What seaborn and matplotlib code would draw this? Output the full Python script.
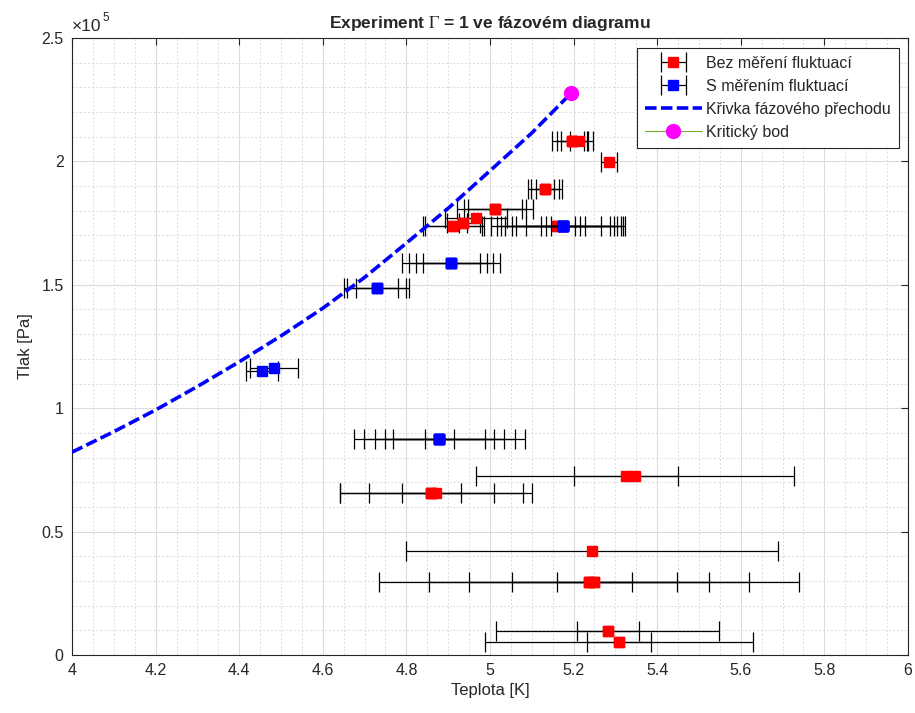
import numpy as np
import pandas as pd
import matplotlib
matplotlib.use("Agg")
import matplotlib.pyplot as plt
from matplotlib.ticker import MultipleLocator, FuncFormatter
from matplotlib.lines import Line2D
from matplotlib.container import ErrorbarContainer
from matplotlib.legend_handler import HandlerErrorbar
import seaborn as sns

# ---------------- data ----------------
# Phase transition curve (He-4 vapour pressure)
curve_T = [4.0, 4.1, 4.2, 4.3, 4.4, 4.5, 4.6, 4.7, 4.8, 4.9, 5.0, 5.1, 5.195]
curve_P = [0.822e5, 0.905e5, 0.993e5, 1.088e5, 1.188e5, 1.293e5, 1.405e5,
           1.530e5, 1.669e5, 1.810e5, 1.962e5, 2.115e5, 2.278e5]

# critical point
crit_T = [5.195]
crit_P = [2.278e5]

# "Bez měření fluktuací" (red) - one row per error bar
bez_T = [5.197, 5.197, 5.197, 5.212,
         5.285,
         5.132, 5.132, 5.132,
         5.012, 5.012, 5.012,
         4.967,
         4.936, 4.936, 4.912, 4.912,
         5.160, 5.160,
         5.325, 5.347,
         4.860, 4.860, 4.860, 4.870,
         5.244,
         5.237, 5.237, 5.237, 5.250, 5.250,
         5.282, 5.282,
         5.309, 5.309]
bez_P = [2.083e5, 2.083e5, 2.083e5, 2.083e5,
         1.999e5,
         1.888e5, 1.888e5, 1.888e5,
         1.806e5, 1.806e5, 1.806e5,
         1.769e5,
         1.749e5, 1.749e5, 1.738e5, 1.738e5,
         1.740e5, 1.740e5,
         0.727e5, 0.727e5,
         0.655e5, 0.655e5, 0.655e5, 0.655e5,
         0.420e5,
         0.294e5, 0.294e5, 0.294e5, 0.294e5, 0.294e5,
         0.098e5, 0.098e5,
         0.051e5, 0.051e5]
bez_dT = [0.049, 0.037, 0.028, 0.020,
          0.019,
          0.040, 0.034, 0.022,
          0.090, 0.075, 0.065,
          0.074,
          0.040, 0.010, 0.073, 0.068,
          0.158, 0.144,
          0.124, 0.380,
          0.220, 0.150, 0.070, 0.230,
          0.446,
          0.503, 0.383, 0.287, 0.198, 0.090,
          0.267, 0.075,
          0.320, 0.076]

# "S měřením fluktuací" (blue)
s_T = [5.175, 5.175, 5.175, 5.175, 5.175, 5.175, 5.175, 5.175,
       4.907, 4.907, 4.907, 4.907,
       4.729, 4.729, 4.729,
       4.455, 4.483,
       4.879, 4.879, 4.879, 4.879, 4.879, 4.879]
s_P = [1.740e5] * 8 + [1.590e5] * 4 + [1.488e5] * 3 + [1.152e5, 1.162e5] + [0.874e5] * 6
s_dT = [0.148, 0.138, 0.122, 0.112, 0.090, 0.053, 0.040, 0.028,
        0.117, 0.100, 0.085, 0.068,
        0.078, 0.070, 0.050,
        0.038, 0.058,
        0.205, 0.180, 0.155, 0.130, 0.110, 0.035]

labels = ["Bez měření fluktuací", "S měřením fluktuací",
          "Křivka fázového přechodu", "Kritický bod"]

# ---------------- style ----------------
sns.set_theme(style="white")
plt.rcParams['font.family'] = ['Liberation Sans', 'DejaVu Sans']
plt.rcParams['mathtext.fontset'] = 'stix'
plt.rcParams['axes.unicode_minus'] = False

fig = plt.figure(figsize=(9.15, 7.13), dpi=100)
ax = fig.add_axes([0.0787, 0.0813, 0.9136, 0.8654])

curve_df = pd.DataFrame({"T": curve_T, "P": curve_P})
bez_df = pd.DataFrame({"T": bez_T, "P": bez_P, "dT": bez_dT})
s_df = pd.DataFrame({"T": s_T, "P": s_P, "dT": s_dT})

eb_kw = dict(fmt='s', ms=7.5, ecolor='black', elinewidth=0.9,
             capsize=7.5, capthick=0.9, linestyle='none')
h_bez = ax.errorbar(bez_df["T"], bez_df["P"], xerr=bez_df["dT"],
                    color='#ff0000', mec='#ff0000', zorder=3, **eb_kw)
h_s = ax.errorbar(s_df["T"], s_df["P"], xerr=s_df["dT"],
                  color='#0000ff', mec='#0000ff', zorder=4, **eb_kw)

dash = (0, (3.2, 1.2))
sns.lineplot(data=curve_df, x="T", y="P", ax=ax, color='#0000ff',
             linewidth=2.6, linestyle=dash, sort=False,
             legend=False, zorder=5)
h_curve = Line2D([], [], color='#0000ff', linewidth=2.6, linestyle=dash)

ax.plot(crit_T, crit_P, marker='o', ms=10, color='#77AC30',
        mfc='#ff00ff', mec='#ff00ff', linewidth=0.8, zorder=6)
h_crit = Line2D([], [], color='#77AC30', linewidth=0.8, marker='o', ms=10,
                mfc='#ff00ff', mec='#ff00ff')

# ---------------- axes ----------------
ax.set_xlim(4, 6)
ax.set_ylim(0, 2.5e5)
ax.xaxis.set_major_locator(MultipleLocator(0.2))
ax.xaxis.set_minor_locator(MultipleLocator(0.05))
ax.yaxis.set_major_locator(MultipleLocator(0.5e5))
ax.yaxis.set_minor_locator(MultipleLocator(0.1e5))
ax.xaxis.set_major_formatter(FuncFormatter(lambda v, p: f"{v:g}"))
ax.yaxis.set_major_formatter(FuncFormatter(lambda v, p: f"{v/1e5:g}"))

ax.grid(which='major', color='#dcdcdc', linewidth=0.8, linestyle='-')
ax.grid(which='minor', color='#dadada', linewidth=0.7, linestyle=(0, (2, 2)))
ax.set_axisbelow(True)

ax.tick_params(which='both', direction='in', top=True, right=True,
               colors='#262626', labelsize=11.5, pad=6)
ax.tick_params(which='major', length=5, width=0.8)
ax.tick_params(which='minor', length=0)
for sp in ax.spines.values():
    sp.set_color('#262626')
    sp.set_linewidth(0.8)

ax.set_xlabel("Teplota [K]", fontsize=12, color='#262626', labelpad=3)
ax.set_ylabel("Tlak [Pa]", fontsize=12, color='#262626', labelpad=6)
ax.set_title(r"Experiment $\Gamma$ = 1 ve fázovém diagramu",
             fontsize=12.5, fontweight='bold', pad=7)
ax.text(0.0, 1.006, "×10", transform=ax.transAxes,
        ha='left', va='bottom', fontsize=12.5, color='#262626')
ax.text(0.0365, 1.022, "5", transform=ax.transAxes,
        ha='left', va='bottom', fontsize=8.5, color='#262626')

leg = ax.legend([h_bez, h_s, h_curve, h_crit], labels,
                loc='upper right', bbox_to_anchor=(0.989, 0.984),
                fontsize=11.5, frameon=True, fancybox=False,
                framealpha=1, edgecolor='#262626', handlelength=3.6,
                borderpad=0.5, labelspacing=0.5, handletextpad=0.25,
                borderaxespad=0.0,
                handler_map={ErrorbarContainer: HandlerErrorbar(xerr_size=0.8)})
leg.get_frame().set_linewidth(0.8)

fig.savefig("out.png", dpi=100)
